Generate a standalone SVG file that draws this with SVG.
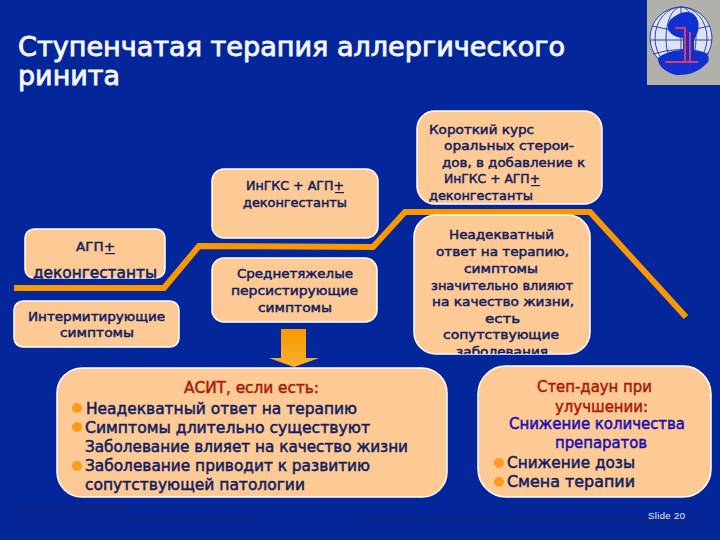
<svg xmlns="http://www.w3.org/2000/svg" width="720" height="540" viewBox="0 0 720 540">
<style>
text{font-family:"DejaVu Sans","Liberation Sans",sans-serif}
.box{fill:#fdca96;stroke:#fff;stroke-width:1.5}
.t{font-size:13px;fill:#12205e;stroke:#12205e;stroke-width:.5;text-anchor:middle}
.s{text-anchor:start}
.l{font-size:15px;fill:#12205e;stroke:#12205e;stroke-width:.5;text-anchor:start}
.r{fill:#a81c08;stroke:#a81c08}
.b{fill:#1a10b0;stroke:#1a10b0}
.dot{fill:#fb9a1e}
.u{fill:#12205e}
.title{font-size:27px;fill:#f4f6fb;stroke:#f4f6fb;stroke-width:.9}
.step{fill:none;stroke:#fb9800;stroke-width:6;stroke-linejoin:miter}
.smudge{fill:#0a2490}
</style>
<defs>
<linearGradient id="arr" x1="0" y1="0" x2="0" y2="1"><stop offset="0" stop-color="#fb9800"/><stop offset="1" stop-color="#f6b030"/></linearGradient>
<clipPath id="cl"><rect x="414" y="215" width="176" height="139"/></clipPath>
<clipPath id="gl"><rect x="647" y="0" width="73" height="85"/></clipPath>
</defs>
<rect width="720" height="540" fill="#03279b"/>
<g id="logo" clip-path="url(#gl)">
<rect x="647" y="0" width="73" height="85" fill="#b2b0aa"/>
<circle cx="681" cy="38" r="31" fill="#dfe4f4" stroke="#2a46b0"/>
<g fill="none" stroke="#2a46b0" stroke-width="1">
<ellipse cx="681" cy="38" rx="15" ry="31"/><ellipse cx="681" cy="38" rx="26" ry="31"/>
<path d="M652 26Q681 34 710 26M650 40H712M653 54Q681 45 709 54M681 7V69"/>
</g>
<path d="M670 20Q682 9 692 13Q702 20 697 34L694 40V50Q712 52 708 62Q696 76 676 75Q658 70 658 58Q668 50 683 50V38Q674 38 668 30Q667 24 670 20Z" fill="#1030d0"/>
<path d="M675 28H685V62M665 62H698M690 32V62" fill="none" stroke="#d83c70" stroke-width="2"/>
</g>
<g id="title">
<text class="title" x="18" y="56" textLength="547" lengthAdjust="spacingAndGlyphs">Ступенчатая терапия аллергического</text>
<text class="title" x="18" y="85" textLength="102" lengthAdjust="spacingAndGlyphs">ринита</text>
</g>
<g id="connectors">
<polyline class="step" points="14,288 164,288 199,246 373,247 405,212 590,212 686,317"/>
<path id="arrow" d="M281 329H306V358H319L294 367L269 358H281Z" fill="url(#arr)"/>
</g>
<g id="node-intermittent">
<rect class="box" x="14" y="301" width="165" height="46" rx="9"/>
<text class="t" x="96.500" y="321" textLength="137" lengthAdjust="spacingAndGlyphs">Интермитирующие</text>
<text class="t" x="97" y="337" textLength="74" lengthAdjust="spacingAndGlyphs">симптомы</text>
</g>
<g id="node-agp">
<rect class="box" x="25" y="229" width="140" height="49" rx="9"/>
<text class="t" x="95.500" y="251" textLength="39" lengthAdjust="spacingAndGlyphs">АГП+</text>
<rect class="u" x="105" y="253" width="10" height="1.200"/>
<text class="t" x="95" y="278" style="font-size:15px" textLength="124" lengthAdjust="spacingAndGlyphs">деконгестанты</text>
</g>
<g id="node-moderate">
<rect class="box" x="212" y="258" width="165" height="64" rx="12"/>
<text class="t" x="295" y="278" textLength="116" lengthAdjust="spacingAndGlyphs">Среднетяжелые</text>
<text class="t" x="294.500" y="295" textLength="127" lengthAdjust="spacingAndGlyphs">персистирующие</text>
<text class="t" x="295" y="312" textLength="74" lengthAdjust="spacingAndGlyphs">симптомы</text>
</g>
<g id="node-ingks">
<rect class="box" x="212" y="169" width="166" height="69" rx="12"/>
<text class="t" x="295" y="190" textLength="98" lengthAdjust="spacingAndGlyphs">ИнГКС + АГП+</text>
<rect class="u" x="335" y="192" width="9" height="1.200"/>
<text class="t" x="295" y="207" textLength="104" lengthAdjust="spacingAndGlyphs">деконгестанты</text>
</g>
<g id="node-oral">
<rect class="box" x="417" y="111" width="185" height="93" rx="18"/>
<text class="t s" x="429" y="134" textLength="105" lengthAdjust="spacingAndGlyphs">Короткий курс</text>
<text class="t s" x="444" y="150" textLength="130" lengthAdjust="spacingAndGlyphs">оральных стерои-</text>
<text class="t s" x="442" y="167" textLength="143" lengthAdjust="spacingAndGlyphs">дов, в добавление к</text>
<text class="t s" x="444" y="183" textLength="96" lengthAdjust="spacingAndGlyphs">ИнГКС + АГП+</text>
<rect class="u" x="531" y="185" width="9" height="1.200"/>
<text class="t s" x="429" y="200" textLength="104" lengthAdjust="spacingAndGlyphs">деконгестанты</text>
</g>
<g id="node-inadequate">
<rect class="box" x="414" y="215" width="176" height="139" rx="22"/>
<g clip-path="url(#cl)">
<text class="t" x="501.500" y="239" textLength="105" lengthAdjust="spacingAndGlyphs">Неадекватный</text>
<text class="t" x="502.500" y="256" textLength="133" lengthAdjust="spacingAndGlyphs">ответ на терапию,</text>
<text class="t" x="501" y="273" textLength="74" lengthAdjust="spacingAndGlyphs">симптомы</text>
<text class="t" x="502" y="290" textLength="142" lengthAdjust="spacingAndGlyphs">значительно влияют</text>
<text class="t" x="503" y="306" textLength="142" lengthAdjust="spacingAndGlyphs">на качество жизни,</text>
<text class="t" x="502.500" y="323" textLength="35" lengthAdjust="spacingAndGlyphs">есть</text>
<text class="t" x="501" y="339" textLength="116" lengthAdjust="spacingAndGlyphs">сопутствующие</text>
<text class="t" x="502" y="356" textLength="92" lengthAdjust="spacingAndGlyphs">заболевания</text>
</g>
</g>
<g id="node-asit">
<rect class="box" x="57" y="368" width="390" height="129" rx="25"/>
<text class="l r" x="184" y="393" textLength="135" lengthAdjust="spacingAndGlyphs">АСИТ, если есть:</text>
<circle class="dot" cx="77" cy="408" r="5"/>
<text class="l" x="86" y="414" textLength="271" lengthAdjust="spacingAndGlyphs">Неадекватный ответ на терапию</text>
<circle class="dot" cx="77" cy="427" r="5"/>
<text class="l" x="85" y="433" textLength="285" lengthAdjust="spacingAndGlyphs">Симптомы длительно существуют</text>
<text class="l" x="85" y="452" textLength="323" lengthAdjust="spacingAndGlyphs">Заболевание влияет на качество жизни</text>
<circle class="dot" cx="77" cy="466" r="5"/>
<text class="l" x="85" y="471" textLength="285" lengthAdjust="spacingAndGlyphs">Заболевание приводит к развитию</text>
<text class="l" x="85" y="490" textLength="220" lengthAdjust="spacingAndGlyphs">сопутствующей патологии</text>
</g>
<g id="node-stepdown">
<rect class="box" x="478" y="366" width="233" height="131" rx="28"/>
<text class="l r" x="537" y="392" textLength="115" lengthAdjust="spacingAndGlyphs">Степ-даун при</text>
<text class="l r" x="555" y="412" textLength="93" lengthAdjust="spacingAndGlyphs">улучшении:</text>
<text class="l b" x="509" y="429" textLength="176" lengthAdjust="spacingAndGlyphs">Снижение количества</text>
<text class="l b" x="555" y="448" textLength="92" lengthAdjust="spacingAndGlyphs">препаратов</text>
<circle class="dot" cx="499" cy="463" r="5"/>
<text class="l" x="507" y="468" textLength="128" lengthAdjust="spacingAndGlyphs">Снижение дозы</text>
<circle class="dot" cx="499" cy="482" r="5"/>
<text class="l" x="507" y="487" textLength="128" lengthAdjust="spacingAndGlyphs">Смена терапии</text>
</g>
<g id="footer">
<rect class="smudge" x="15" y="505" width="115" height="7"/>
<rect class="smudge" x="15" y="517" width="243" height="7"/>
<rect class="smudge" x="352" y="517" width="353" height="7"/>
<text x="648" y="519" textLength="37" style="font-family:'Liberation Sans',sans-serif;font-size:9.500px" fill="#e8ecf8">Slide 20</text>
</g>
</svg>
